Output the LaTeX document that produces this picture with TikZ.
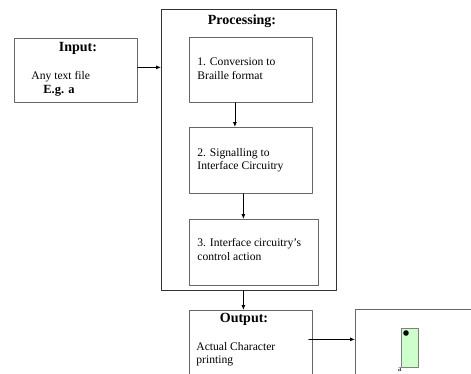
\documentclass[tikz,border=0pt]{standalone}
\usepackage{fontspec}
\setmainfont{Liberation Serif}
\usetikzlibrary{positioning,arrows.meta}
\definecolor{cellgreen}{HTML}{CCFFCC}
\tikzstyle{every node}=[font=\fontsize{11.6}{13.5}\selectfont]
\tikzstyle{every path}=[line width=0.8pt,line cap=round,line join=round]
\tikzset{
  box/.style={draw=black!60,anchor=north west,inner sep=0pt},
  head/.style={font=\fontsize{14}{16}\selectfont\bfseries},
  txt/.style={anchor=west,align=left,inner sep=0pt},
  >={Latex[length=5pt,width=4pt]}
}

\begin{document}
\begin{tikzpicture}[x=1pt,y=-1pt]
  \useasboundingbox (0,0) rectangle (471,373);
  % boxes
  \node[box,minimum width=123pt,minimum height=64pt] (input) at (14,38) {};
  \node[box,draw=black!80,minimum width=175pt,minimum height=281pt] (proc) at (161,9) {};
  \node[box,minimum width=123pt,minimum height=65pt] (conv) at (189,37) {};
  \node[box,minimum width=123pt,minimum height=66pt] (signal) at (189,127) {};
  \node[box,minimum width=129pt,minimum height=66pt] (ctrl) at (189,219) {};
  \node[box,minimum width=123pt,minimum height=80pt] (output) at (189,310) {};
  \node[box,minimum width=125pt,minimum height=80pt] (printer) at (355,309) {};
  % texts
  \node[head] (inhead) at (78,48) {Input:};
  \node[txt] (anyfile) at (31,77) {Any text file};
  \node[txt,font=\fontsize{12.5}{14}\selectfont\bfseries] (eg) at (43,91) {E.g. a};
  \node[head] (prochead) at (242,21) {Processing:};
  \node[txt] (convtxt) at (197,68.5) {1. Conversion to\\Braille format};
  \node[txt] (signaltxt) at (197,160) {2. Signalling to\\Interface Circuitry};
  \node[txt] (ctrltxt) at (197,249.5) {3. Interface circuitry's\\control action};
  \node[head] (outhead) at (244,319) {Output:};
  \node[txt] (outtxt) at (196,354) {Actual Character\\printing};
  % braille cell
  \node[box,draw=black!50,fill=cellgreen,minimum width=17pt,minimum height=39pt] (cell) at (401,328) {};
  \fill (406,333) circle (2.8);
  \node[font=\fontsize{8}{9}\selectfont] (cellname) at (400,370) {a};
  % arrows
  \draw[->] ([yshift=3pt]input.east) -- ([yshift=3pt]input.east -| proc.west);
  \draw[->] ([xshift=-16pt]conv.south) -- ([xshift=-16pt]conv.south |- signal.north);
  \draw[->] ([xshift=-7.5pt]signal.south) -- ([xshift=-7.5pt]signal.south |- ctrl.north);
  \draw[->] ([xshift=-5.5pt]proc.south) -- ([xshift=-5.5pt]proc.south |- output.north);
  \draw[->] ([xshift=-4pt,yshift=11pt]output.east) -- ([yshift=11pt]output.east -| printer.west);
\end{tikzpicture}
\end{document}
